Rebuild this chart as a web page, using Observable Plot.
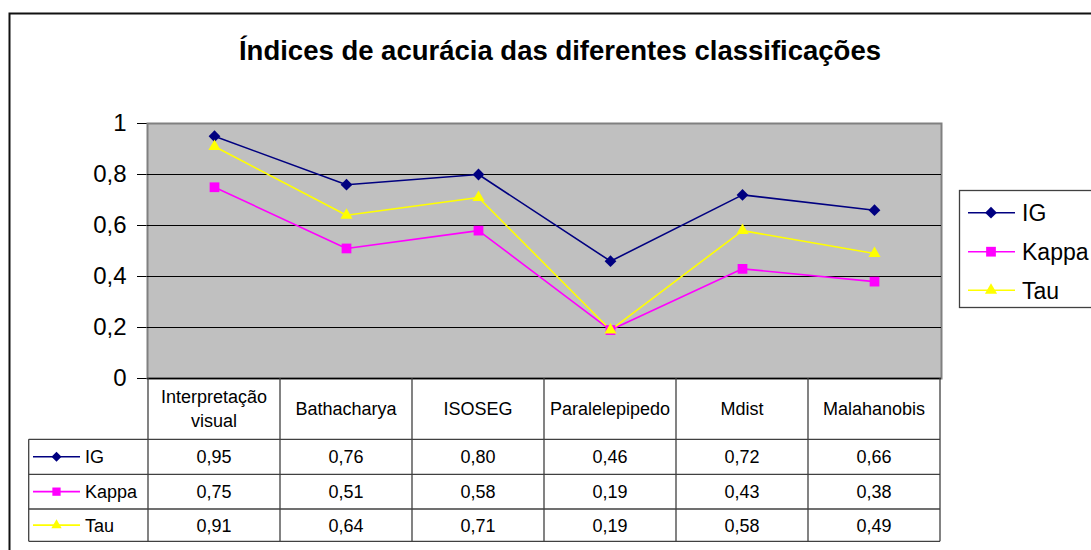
<!DOCTYPE html>
<html><head><meta charset="utf-8">
<script src="https://cdn.jsdelivr.net/npm/d3@7"></script>
<script src="https://cdn.jsdelivr.net/npm/@observablehq/plot@0.6"></script>
<style>
body{margin:0;background:#fff}
#chart{position:relative;width:1091px;height:550px;overflow:hidden}
</style>
</head><body><div id="chart"></div>
<script>
const categories = ["Interpretação visual", "Bathacharya", "ISOSEG", "Paralelepipedo", "Mdist", "Malahanobis"];
const seriesNames = ["IG", "Kappa", "Tau"];
const igValues = [0.95, 0.76, 0.80, 0.46, 0.72, 0.66];
const kappaValues = [0.75, 0.51, 0.58, 0.19, 0.43, 0.38];
const tauValues = [0.91, 0.64, 0.71, 0.19, 0.58, 0.49];
const yTicks = [0, 0.2, 0.4, 0.6, 0.8, 1];
const colors = ["#000080", "#FF00FF", "#FFFF00"];
const symbols = ["diamond2", "square2", "triangle2"];
const d3Symbols = [d3.symbolDiamond2, d3.symbolSquare2, d3.symbolTriangle2];
const markerR = [5.3, 6.2, 5.8];
const title = "Índices de acurácia das diferentes classificações";

const FONT = "'Liberation Sans', Arial, Helvetica, sans-serif";
const seriesValues = [igValues, kappaValues, tauValues];
const rows = seriesNames.flatMap((s, i) => categories.map((c, j) => ({series: s, category: c, value: seriesValues[i][j]})));
const comma = d => d3.format(".2f")(d).replace(".", ",");
const tickFmt = d => String(d).replace(".", ",");

const plot = Plot.plot({
  width: 1091, height: 550,
  marginTop: 123, marginBottom: 172, marginLeft: 147, marginRight: 150,
  style: {fontFamily: FONT, fontSize: "24px", background: "white", color: "#000", overflow: "visible"},
  x: {type: "point", domain: categories, padding: 0.5, axis: null},
  y: {domain: [0, 1], ticks: yTicks, tickFormat: tickFmt, tickSize: 10, tickPadding: 11, label: null, line: true},
  marks: [
    Plot.frame({fill: "#c0c0c0", stroke: "#808080", strokeWidth: 2}),
    Plot.ruleY(yTicks.filter(t => t > 0 && t < 1), {stroke: "#000", strokeWidth: 1}),
    Plot.ruleY([0], {stroke: "#000", strokeWidth: 1.5}),
    ...seriesNames.map((s, i) => Plot.line(rows.filter(d => d.series === s), {x: "category", y: "value", stroke: colors[i], strokeWidth: 1.6})),
    ...seriesNames.map((s, i) => Plot.dot(rows.filter(d => d.series === s), {x: "category", y: "value", symbol: symbols[i], fill: colors[i], stroke: "none", r: markerR[i]}))
  ]
});
document.getElementById("chart").appendChild(plot);

const svg = d3.select(plot);
const xs = plot.scale("x"), ys = plot.scale("y");
const cx = categories.map(c => xs.apply(c));
const step = cx[1] - cx[0];
const bounds = [cx[0] - step / 2, ...cx.map(c => c + step / 2)];
const y0 = ys.apply(0);
const rowEdges = [y0, y0 + 61.3, y0 + 96.3, y0 + 131, y0 + 163.3];
const leftCol = 28.7;
const lineColor = "#404040";

// outer chart border
svg.append("rect").attr("x", 9.5).attr("y", 13.5).attr("width", 1200).attr("height", 700)
  .attr("fill", "none").attr("stroke", "#111").attr("stroke-width", 2);

// title
svg.append("text").attr("x", 560).attr("y", 59.5).attr("text-anchor", "middle")
  .attr("font-family", FONT).attr("font-size", 27.5).attr("font-weight", "bold").text(title);

// data table
const g = svg.append("g").attr("font-family", FONT).attr("font-size", 18);
bounds.forEach(b => g.append("line").attr("x1", b).attr("x2", b).attr("y1", rowEdges[0]).attr("y2", rowEdges[4])
  .attr("stroke", lineColor).attr("stroke-width", 1.3));
g.append("line").attr("x1", leftCol).attr("x2", leftCol).attr("y1", rowEdges[1]).attr("y2", rowEdges[4])
  .attr("stroke", lineColor).attr("stroke-width", 1.3);
rowEdges.slice(1).forEach(y => g.append("line").attr("x1", leftCol).attr("x2", bounds[bounds.length - 1]).attr("y1", y).attr("y2", y)
  .attr("stroke", lineColor).attr("stroke-width", 1.3));

const headMid = (rowEdges[0] + rowEdges[1]) / 2;
categories.forEach((c, j) => {
  const parts = c.split(" ");
  const lh = 23.5;
  parts.forEach((p, k) => {
    const yc = headMid + (k - (parts.length - 1) / 2) * lh;
    g.append("text").attr("x", cx[j]).attr("y", yc + 6.5).attr("text-anchor", "middle").text(p);
  });
});

seriesNames.forEach((s, i) => {
  const yc = (rowEdges[i + 1] + rowEdges[i + 2]) / 2;
  seriesValues[i].forEach((v, j) => {
    g.append("text").attr("x", cx[j]).attr("y", yc + 6.5).attr("text-anchor", "middle").text(comma(v));
  });
  g.append("line").attr("x1", 33).attr("x2", 80).attr("y1", yc).attr("y2", yc).attr("stroke", colors[i]).attr("stroke-width", 1.6);
  g.append("path").attr("transform", `translate(56.5,${yc})`)
    .attr("d", d3.symbol(d3Symbols[i], Math.PI * (markerR[i] * 0.85) ** 2)()).attr("fill", colors[i]);
  g.append("text").attr("x", 85).attr("y", yc + 6.5).attr("text-anchor", "start").text(s);
});

// legend
const lg = svg.append("g").attr("font-family", FONT).attr("font-size", 23);
lg.append("rect").attr("x", 959.5).attr("y", 190.5).attr("width", 200).attr("height", 117)
  .attr("fill", "white").attr("stroke", lineColor).attr("stroke-width", 1.3);
const legY = [212.7, 251.7, 290.3];
seriesNames.forEach((s, i) => {
  const yc = legY[i];
  lg.append("line").attr("x1", 968).attr("x2", 1015).attr("y1", yc).attr("y2", yc).attr("stroke", colors[i]).attr("stroke-width", 1.6);
  lg.append("path").attr("transform", `translate(991,${yc})`)
    .attr("d", d3.symbol(d3Symbols[i], Math.PI * markerR[i] ** 2)()).attr("fill", colors[i]);
  lg.append("text").attr("x", 1022).attr("y", yc + 8.3).attr("text-anchor", "start").text(s);
});
</script>
</body></html>
